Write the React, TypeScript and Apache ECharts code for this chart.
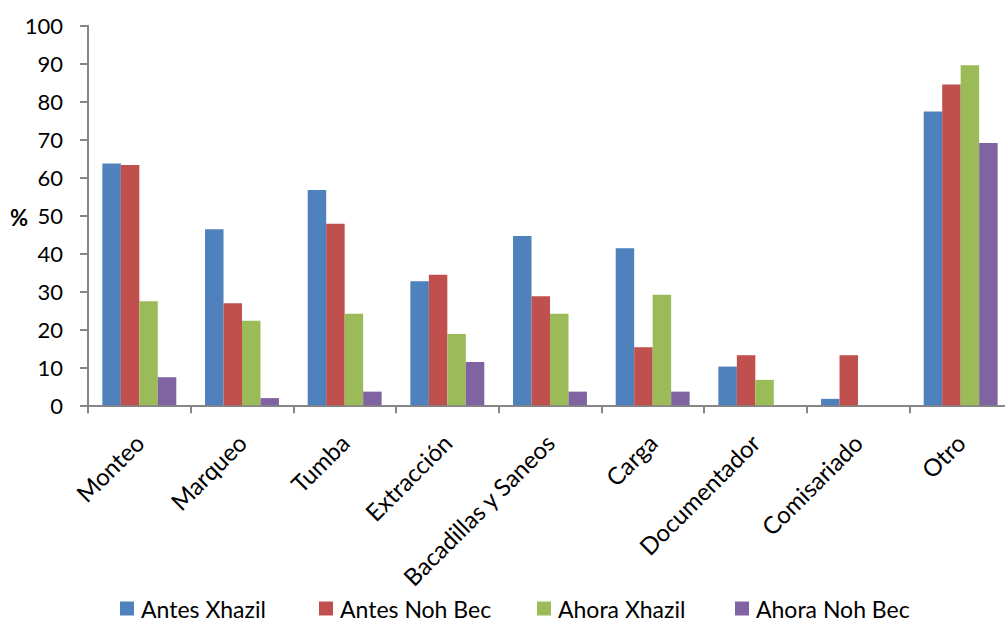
import React, { useEffect, useRef } from "react";
import * as echarts from "echarts";

const categories = [
  "Monteo",
  "Marqueo",
  "Tumba",
  "Extracción",
  "Bacadillas y Saneos",
  "Carga",
  "Documentador",
  "Comisariado",
  "Otro",
];
const antesXhazil = [63.7, 46.4, 56.7, 32.7, 44.6, 41.4, 10.2, 1.7, 77.4];
const antesNohBec = [63.3, 26.9, 47.8, 34.4, 28.7, 15.3, 13.2, 13.2, 84.5];
const ahoraXhazil = [27.4, 22.3, 24.1, 18.8, 24.1, 29.1, 6.7, 0, 89.6];
const ahoraNohBec = [7.4, 1.9, 3.6, 11.4, 3.6, 3.6, 0, 0, 69.1];
const seriesNames = ["Antes Xhazil", "Antes Noh Bec", "Ahora Xhazil", "Ahora Noh Bec"];
const yTicks = { min: 0, max: 100, interval: 10 };

const FONT = "Lato, 'Open Sans', sans-serif";
const COLORS = ["#4F81BD", "#C0504D", "#9BBB59", "#8064A2"];
const LEGEND_LEFT = [120, 319, 537, 735];

export default function App() {
  const ref = useRef<HTMLDivElement>(null);
  useEffect(() => {
    if (!ref.current) return;
    const chart = echarts.init(ref.current, undefined, { renderer: "svg" });
    const values = [antesXhazil, antesNohBec, ahoraXhazil, ahoraNohBec];
    chart.setOption({
      animation: false,
      textStyle: { fontFamily: FONT },
      grid: { left: 88, top: 25.7, width: 924, height: 379.6, containLabel: false },
      legend: seriesNames.map((n, i) => ({
        data: [n],
        left: LEGEND_LEFT[i],
        top: 597,
        padding: 0,
        itemWidth: 14,
        itemHeight: 14,
        icon: "rect",
        textStyle: { fontSize: 23, color: "#000", fontFamily: FONT, padding: [0, 0, 0, 2] },
      })),
      graphic: [
        {
          type: "text",
          left: 10,
          top: 206,
          style: { text: "%", font: `bold 22px ${FONT}`, fill: "#000" },
        },
      ],
      xAxis: {
        type: "category",
        data: categories,
        boundaryGap: true,
        axisLine: { lineStyle: { color: "#868686", width: 2 } },
        axisTick: { show: true, length: 8, lineStyle: { color: "#868686", width: 2 } },
        axisLabel: { rotate: 45, fontSize: 24, color: "#000", margin: 33, interval: 0 },
      },
      yAxis: {
        type: "value",
        min: yTicks.min,
        max: yTicks.max,
        interval: yTicks.interval,
        splitLine: { show: false },
        axisLine: { show: true, lineStyle: { color: "#868686", width: 2 } },
        axisTick: { show: true, length: 8, lineStyle: { color: "#868686", width: 2 } },
        axisLabel: { fontSize: 22, color: "#000", margin: 25 },
      },
      series: seriesNames.map((n, i) => ({
        name: n,
        type: "bar",
        data: values[i],
        barGap: "0%",
        barCategoryGap: "28%",
        itemStyle: { color: COLORS[i] },
      })),
    });
    return () => chart.dispose();
  }, []);
  return (
    <div
      style={{
        position: "fixed",
        left: 0,
        top: 0,
        width: 1005,
        height: 627,
        overflow: "hidden",
        background: "#fff",
      }}
    >
      <div ref={ref} style={{ width: 1020, height: 627 }} />
    </div>
  );
}
